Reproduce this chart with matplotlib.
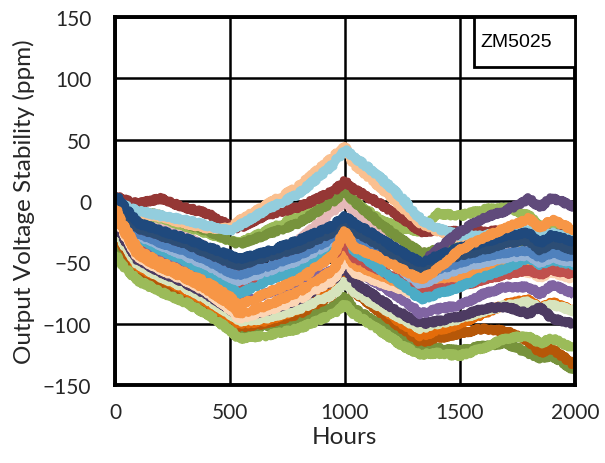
import matplotlib
matplotlib.use("Agg")
import matplotlib.pyplot as plt
from matplotlib.patches import Rectangle

hours = [0, 20, 100, 200, 300, 400, 500, 540, 650, 800, 950, 1000, 1040,
         1150, 1250, 1330, 1400, 1500, 1600, 1700, 1800, 1850, 1900, 2000]

green_top = [2, -3, -10, -14, -20, -26, -32, -34, -25, -12, 2, 8, 0, -15, -22, -25, -10, -12, -7, -5, -12, -20, -22, -30]
olive_low = [-38, -46, -62, -70, -76, -86, -98, -104, -102, -98, -86, -78, -88, -100, -112, -120, -120, -122, -118, -116, -124, -128, -126, -138]
brown = [-16, -32, -58, -66, -76, -86, -98, -103, -100, -92, -76, -60, -74, -90, -104, -115, -112, -108, -104, -106, -114, -124, -120, -134]
dark_orange = [-14, -28, -54, -62, -72, -82, -95, -100, -98, -88, -72, -55, -68, -85, -100, -110, -106, -100, -92, -84, -80, -88, -82, -90]
light_green = [-15, -30, -52, -62, -70, -80, -92, -98, -96, -88, -76, -66, -74, -86, -96, -104, -100, -96, -90, -85, -82, -88, -84, -90]
dark_purple_low = [-12, -25, -48, -58, -66, -76, -88, -94, -90, -80, -64, -52, -66, -80, -92, -100, -98, -94, -88, -86, -92, -86, -96, -100]
purple = [-5, -15, -36, -46, -55, -65, -78, -84, -76, -66, -56, -48, -56, -68, -80, -92, -88, -85, -76, -70, -70, -76, -68, -76]
peach = [-8, -20, -46, -56, -64, -74, -88, -96, -90, -80, -64, -48, -58, -66, -72, -78, -72, -62, -58, -56, -58, -62, -58, -64]
orange2 = [-6, -18, -44, -54, -62, -72, -84, -92, -86, -74, -56, -38, -52, -60, -68, -74, -68, -62, -55, -50, -48, -54, -50, -56]
red = [-2, -12, -32, -38, -46, -54, -64, -72, -64, -56, -44, -32, -46, -56, -66, -72, -72, -70, -64, -60, -56, -60, -56, -60]
aqua = [0, -10, -30, -40, -48, -58, -70, -76, -66, -55, -38, -22, -40, -55, -68, -80, -76, -70, -62, -55, -46, -52, -48, -52]
light_blue = [1, -8, -28, -36, -44, -52, -62, -65, -58, -48, -33, -24, -32, -45, -56, -68, -62, -55, -50, -46, -44, -50, -46, -50]
orange_top = [-4, -14, -40, -50, -58, -66, -78, -85, -76, -64, -44, -24, -38, -46, -56, -64, -56, -40, -30, -22, -14, -22, -15, -24]
med_blue = [2, -6, -26, -34, -40, -48, -58, -60, -54, -44, -30, -20, -28, -40, -52, -62, -56, -50, -45, -42, -40, -46, -42, -46]
pink = [1, -6, -15, -22, -28, -38, -48, -52, -44, -32, -8, 0, -8, -22, -32, -42, -45, -40, -36, -34, -32, -36, -32, -38]
dark_blue2 = [4, -3, -22, -28, -34, -42, -50, -52, -46, -38, -25, -16, -24, -36, -48, -56, -50, -44, -40, -34, -32, -40, -34, -40]
dark_blue = [6, 0, -18, -24, -30, -37, -44, -47, -42, -32, -20, -12, -18, -30, -42, -50, -45, -38, -34, -28, -26, -34, -28, -33]
olive = [4, -1, -8, -12, -18, -24, -32, -35, -28, -18, 0, 8, 0, -18, -32, -42, -40, -38, -36, -33, -32, -36, -32, -38]
light_orange = [2, -3, -10, -13, -18, -22, -22, -16, -4, 12, 36, 45, 30, 12, -5, -18, -24, -30, -30, -28, -26, -30, -28, -32]
sky = [3, -2, -8, -12, -15, -20, -24, -20, -8, 6, 30, 42, 36, 20, 2, -15, -22, -28, -28, -26, -24, -28, -26, -30]
dark_red = [6, 2, -2, 2, -5, -10, -20, -22, -12, -5, 8, 16, 10, -2, -14, -25, -24, -25, -25, -24, -24, -28, -26, -30]
dark_purple_top = [4, -3, -22, -28, -34, -42, -50, -52, -46, -38, -25, -16, -24, -36, -48, -52, -40, -25, -14, -8, 2, -5, 3, -5]
lime = [-42, -50, -65, -74, -82, -92, -105, -112, -110, -104, -92, -84, -92, -105, -118, -125, -124, -126, -120, -112, -110, -116, -112, -120]

series = [
    (olive_low, "#77933C"),
    (brown, "#B65708"),
    (dark_orange, "#E46C0A"),
    (light_green, "#D7E4BD"),
    (dark_purple_low, "#4D3B62"),
    (purple, "#8064A2"),
    (peach, "#FCD5B5"),
    (orange2, "#F79646"),
    (red, "#C0504D"),
    (aqua, "#4BACC6"),
    (light_blue, "#95B3D7"),
    (med_blue, "#4F81BD"),
    (pink, "#E6B9B8"),
    (green_top, "#9BBB59"),
    (olive, "#77933C"),
    (dark_red, "#953735"),
    (light_orange, "#FAC090"),
    (sky, "#93CDDD"),
    (dark_purple_top, "#604A7B"),
    (dark_blue2, "#2C4D75"),
    (dark_blue, "#1F497D"),
    (orange_top, "#F79646"),
    (lime, "#9BBB59"),
]

x_ticks = [0, 500, 1000, 1500, 2000]
y_ticks = [-150, -100, -50, 0, 50, 100, 150]

fig = plt.figure(figsize=(6.05, 4.64), dpi=100)
ax = fig.add_axes([0.190, 0.168, 0.760, 0.793])

for vals, col in series:
    ln, = ax.plot(hours, vals, color=col, lw=5.5, solid_joinstyle="round",
                  solid_capstyle="butt", zorder=3)
    ln.set_sketch_params(scale=2.0, length=2.5, randomness=2.0)

ax.set_xlim(0, 2000)
ax.set_ylim(-150, 150)
ax.set_xticks(x_ticks)
ax.set_yticks(y_ticks)
ax.grid(True, color="black", lw=1.8, zorder=1)
ax.set_axisbelow(True)
for s in ax.spines.values():
    s.set_linewidth(2.8)
    s.set_color("black")
    s.set_zorder(5)
ax.tick_params(length=0, labelsize=15, colors="#262626")
ax.tick_params(axis="y", pad=17)
ax.tick_params(axis="x", pad=12)
for lab in ax.get_xticklabels() + ax.get_yticklabels():
    lab.set_fontfamily("Lato")
ax.set_xlabel("Hours", fontsize=17.5, family="Lato", color="#262626", labelpad=3)
ax.set_ylabel("Output Voltage Stability (ppm)", fontsize=17.5, family="Lato",
              color="#262626", labelpad=6)

# label box
ax.add_patch(Rectangle((0.78, 0.865), 0.22, 0.135, transform=ax.transAxes,
                       facecolor="white", edgecolor="black", lw=2.0, zorder=6))
ax.text(0.795, 0.935, "ZM5025", transform=ax.transAxes, fontsize=14,
        family="Liberation Sans", va="center", ha="left", zorder=7)

fig.savefig("out.png", dpi=100)
